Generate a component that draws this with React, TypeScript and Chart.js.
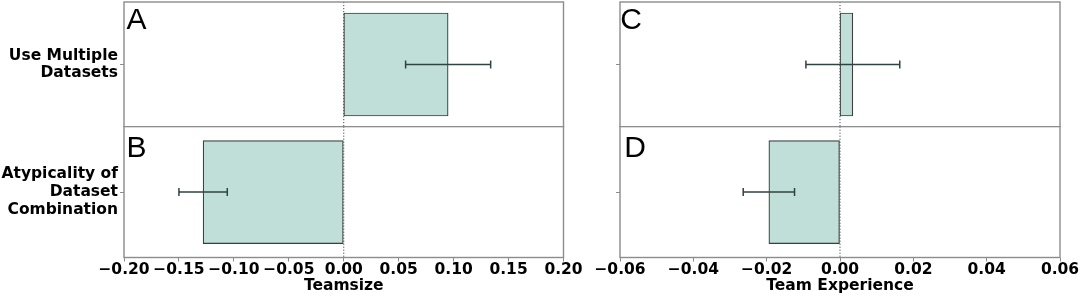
import React, { useEffect, useRef } from "react";
import { Chart, registerables } from "chart.js";

Chart.register(...registerables);

// ---- data ----
const categories: string[][] = [
  ["Use Multiple", "Datasets"],
  ["Atypicality of", "Dataset", "Combination"],
];
const panelLetters = ["A", "B", "C", "D"];
const teamsizeCoef = [0.095, -0.128];
const teamsizeErr = [0.0387, 0.022];
const experienceCoef = [0.0035, -0.0194];
const experienceErr = [0.0128, 0.007];
const teamsizeRange = [-0.2, 0.2];
const teamsizeStep = 0.05;
const experienceRange = [-0.06, 0.06];
const experienceStep = 0.02;
const xTitles = ["Teamsize", "Team Experience"];

// ---- styles ----
const FILL = "#c0dfd9";
const EDGE = "#3a3f3e";
const ERR = "#2f4442";
const FRAME = "#8c8c8c";
const FONT = { family: '"DejaVu Sans", sans-serif', size: 15.5, weight: "bold" as const, lineHeight: 1.15 };

const fmt = (v: number) => {
  const n = Math.abs(v) < 1e-9 ? 0 : v;
  const s = n.toFixed(2);
  return s.startsWith("-") ? "\u2212" + s.slice(1) : s;
};

const panelDecor = {
  id: "panelDecor",
  afterDatasetsDraw(chart: any, _args: any, opts: any) {
    const { ctx, chartArea: a, scales } = chart;
    const xs = scales.x;
    ctx.save();
    // zero reference line (dotted)
    const zx = xs.getPixelForValue(0);
    ctx.strokeStyle = "#4a4a4a";
    ctx.lineWidth = 1;
    ctx.setLineDash([1.2, 1.8]);
    ctx.beginPath();
    ctx.moveTo(zx, a.top);
    ctx.lineTo(zx, a.bottom);
    ctx.stroke();
    ctx.setLineDash([]);
    // error bars
    const meta = chart.getDatasetMeta(0);
    const vals = chart.data.datasets[0].data as number[];
    (opts.errors as number[]).forEach((e, i) => {
      const bar: any = meta.data[i];
      if (!bar) return;
      const cy = bar.y;
      const lo = xs.getPixelForValue(vals[i] - e);
      const hi = xs.getPixelForValue(vals[i] + e);
      ctx.strokeStyle = ERR;
      ctx.lineWidth = 1.5;
      ctx.beginPath();
      ctx.moveTo(lo, cy);
      ctx.lineTo(hi, cy);
      ctx.moveTo(lo, cy - 4);
      ctx.lineTo(lo, cy + 4);
      ctx.moveTo(hi, cy - 4);
      ctx.lineTo(hi, cy + 4);
      ctx.stroke();
    });
    // panel letter
    ctx.font = '30px "Liberation Sans", Arial, sans-serif';
    ctx.fillStyle = "#000";
    ctx.textAlign = "left";
    ctx.textBaseline = "alphabetic";
    ctx.fillText(opts.letter, a.left + opts.dx, a.top + opts.dy);
    ctx.restore();
  },
  afterDraw(chart: any) {
    const { ctx, chartArea: a } = chart;
    ctx.save();
    ctx.strokeStyle = FRAME;
    ctx.lineWidth = 1.4;
    ctx.strokeRect(a.left, a.top, a.right - a.left, a.bottom - a.top);
    ctx.restore();
  },
};

type PanelSpec = {
  letter: string;
  category: string[];
  value: number;
  err: number;
  range: number[];
  step: number;
  title: string | null;
  left: number;
  top: number;
  width: number;
  height: number;
  yWidth: number;
  padRight: number;
  padTop: number;
  showYLabels: boolean;
  dx: number;
  dy: number;
};

const colL = { left: 0, width: 590, yWidth: 124, padRight: 26.5, showYLabels: true };
const colR = { left: 580, width: 500, yWidth: 40, padRight: 20, showYLabels: false };
const rowT = { top: 0, height: 127, padTop: 2 };
const rowB = { top: 126, height: 171, padTop: 0.6 };

const panels: PanelSpec[] = [
  { letter: panelLetters[0], category: categories[0], value: teamsizeCoef[0], err: teamsizeErr[0], range: teamsizeRange, step: teamsizeStep, title: null, ...colL, ...rowT, dx: 2.5, dy: 26.8 },
  { letter: panelLetters[1], category: categories[1], value: teamsizeCoef[1], err: teamsizeErr[1], range: teamsizeRange, step: teamsizeStep, title: xTitles[0], ...colL, ...rowB, dx: 2.5, dy: 30 },
  { letter: panelLetters[2], category: categories[0], value: experienceCoef[0], err: experienceErr[0], range: experienceRange, step: experienceStep, title: null, ...colR, ...rowT, dx: 0.3, dy: 27 },
  { letter: panelLetters[3], category: categories[1], value: experienceCoef[1], err: experienceErr[1], range: experienceRange, step: experienceStep, title: xTitles[1], ...colR, ...rowB, dx: 4.3, dy: 30 },
];

function Panel({ p }: { p: PanelSpec }) {
  const ref = useRef<HTMLCanvasElement | null>(null);
  useEffect(() => {
    if (!ref.current) return;
    const showX = p.title !== null;
    const chart = new Chart(ref.current, {
      type: "bar",
      data: {
        labels: [p.category as any],
        datasets: [
          {
            data: [p.value],
            backgroundColor: FILL,
            borderColor: EDGE,
            borderWidth: 1.2,
            borderSkipped: false,
            barThickness: 103,
          } as any,
        ],
      },
      options: {
        indexAxis: "y",
        responsive: false,
        animation: false,
        events: [],
        devicePixelRatio: 1,
        layout: { padding: { left: 0, right: p.padRight, top: p.padTop, bottom: 0 } },
        plugins: {
          legend: { display: false },
          tooltip: { enabled: false },
          panelDecor: { letter: p.letter, dx: p.dx, dy: p.dy, errors: [p.err] },
        } as any,
        scales: {
          x: {
            type: "linear",
            display: showX,
            min: p.range[0],
            max: p.range[1],
            ticks: {
              stepSize: p.step,
              callback: (v: any) => fmt(Number(v)),
              font: FONT,
              color: "#000",
              padding: 0,
              maxRotation: 0,
              autoSkip: false,
            },
            grid: { drawOnChartArea: false, tickLength: 4, color: FRAME, tickColor: FRAME },
            border: { display: false },
            title: {
              display: showX,
              text: p.title || "",
              font: FONT,
              color: "#000",
              padding: { top: 0, bottom: 2 },
            },
            afterFit: (s: any) => {
              if (showX) s.height = 39.5;
              else s.height = 0;
            },
          },
          y: {
            type: "category",
            ticks: { display: p.showYLabels, font: FONT, color: "#000", padding: 2 },
            grid: { drawOnChartArea: false, offset: false, tickLength: 4, color: FRAME, tickColor: FRAME },
            border: { display: false },
            afterFit: (s: any) => {
              s.width = p.yWidth;
              s.paddingTop = 0;
              s.paddingBottom = 0;
            },
          },
        } as any,
      },
      plugins: [panelDecor as any],
    });
    return () => chart.destroy();
  }, [p]);
  return (
    <canvas
      ref={ref}
      width={p.width}
      height={p.height}
      style={{ position: "absolute", left: p.left, top: p.top, width: p.width, height: p.height }}
    />
  );
}

export default function App() {
  return (
    <div
      style={{
        position: "absolute",
        left: 0,
        top: 0,
        width: 1080,
        height: 297,
        background: "#fff",
        overflow: "hidden",
      }}
    >
      {panels.map((p) => (
        <Panel key={p.letter} p={p} />
      ))}
    </div>
  );
}
